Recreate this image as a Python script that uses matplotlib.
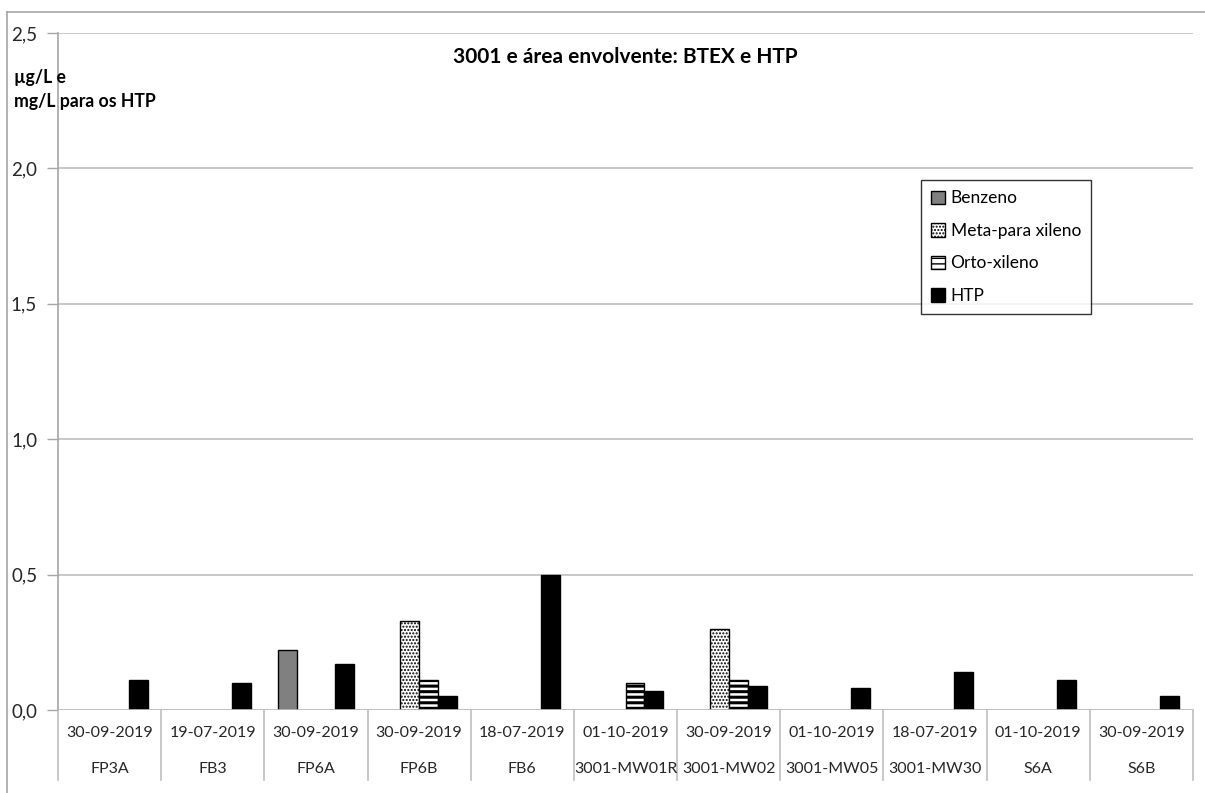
import matplotlib
matplotlib.use("Agg")
import matplotlib.pyplot as plt
import numpy as np
from matplotlib.patches import Patch
from matplotlib.lines import Line2D

plt.rcParams['font.family'] = ['Lato', 'DejaVu Sans']

dates = ["30-09-2019", "19-07-2019", "30-09-2019", "30-09-2019", "18-07-2019",
         "01-10-2019", "30-09-2019", "01-10-2019", "18-07-2019", "01-10-2019", "30-09-2019"]
sites = ["FP3A", "FB3", "FP6A", "FP6B", "FB6", "3001-MW01R", "3001-MW02",
         "3001-MW05", "3001-MW30", "S6A", "S6B"]
benzeno = [0, 0, 0.22, 0, 0, 0, 0, 0, 0, 0, 0]
meta_para = [0, 0, 0, 0.33, 0, 0, 0.30, 0, 0, 0, 0]
orto = [0, 0, 0, 0.11, 0, 0.10, 0.11, 0, 0, 0, 0]
htp = [0.11, 0.10, 0.17, 0.05, 0.50, 0.07, 0.09, 0.08, 0.14, 0.11, 0.05]

W, H = 1205, 793
fig = plt.figure(figsize=(W / 100, H / 100), dpi=100)
left, right, top, bottom = 58, 1193, 33, 710
ax = fig.add_axes([left / W, 1 - bottom / H, (right - left) / W, (bottom - top) / H])

x = np.arange(len(sites))
w = 0.184
series = [
    ("Benzeno", benzeno, dict(facecolor="#808080", edgecolor="black", hatch=None), 1.0),
    ("Meta-para xileno", meta_para, dict(facecolor="white", edgecolor="black", hatch="....."), 1.0),
    ("Orto-xileno", orto, dict(facecolor="white", edgecolor="black", hatch="---"), 2.2),
    ("HTP", htp, dict(facecolor="black", edgecolor="black", hatch=None), 1.0),
]
handles = []
for k, (name, vals, st, hlw) in enumerate(series):
    vals = np.array(vals, dtype=float)
    m = vals > 0
    with plt.rc_context({'hatch.linewidth': hlw}):
        ax.bar(x[m] + (k - 1.5) * w, vals[m], width=w, linewidth=1.0, zorder=3, **st)
        handles.append(Patch(label=name, linewidth=1.0, **st))

ax.set_xlim(-0.5, len(sites) - 0.5)
ax.set_ylim(0, 2.5)
yt = np.arange(0, 2.51, 0.5)
ax.set_yticks(yt)
ax.set_yticklabels([f"{v:.1f}".replace(".", ",") for v in yt], fontsize=13.5, color="#262626")
ax.tick_params(axis="y", direction="out", length=8, color="#A6A6A6", width=1, pad=7)
ax.set_xticks([])
ax.grid(axis="y", color="#BFBFBF", linewidth=1.2, zorder=0)
for s in ["top", "right", "bottom"]:
    ax.spines[s].set_visible(False)
ax.spines["left"].set_color("#A6A6A6")
ax.spines["left"].set_linewidth(1.2)
ax.axhline(0, color="#BFBFBF", linewidth=1.2, zorder=4)

# category separators below axis
ah = bottom - top
for b in np.arange(-0.5, len(sites), 1.0):
    ax.add_line(Line2D([b, b], [0, -70 / ah], transform=ax.get_xaxis_transform(),
                       color="#BFBFBF", linewidth=1.2, clip_on=False))
for i in range(len(sites)):
    ax.annotate(dates[i], xy=(x[i], 0), xycoords=("data", "axes fraction"),
                xytext=(0, -23), textcoords="offset pixels", ha="center", va="center",
                fontsize=11.5, color="#262626")
    ax.annotate(sites[i], xy=(x[i], 0), xycoords=("data", "axes fraction"),
                xytext=(0, -59), textcoords="offset pixels", ha="center", va="center",
                fontsize=11.5, color="#262626")

fig.text(625 / W, 1 - 57 / H, "3001 e área envolvente: BTEX e HTP", ha="center", va="center",
         fontsize=15, fontweight="bold", color="black")
fig.text(14 / W, 1 - 77 / H, "µg/L e", ha="left", va="center", fontsize=12.7,
         fontweight="bold", color="black")
fig.text(14 / W, 1 - 101 / H, "mg/L para os HTP", ha="left", va="center", fontsize=12.7,
         fontweight="bold", color="black")

leg = fig.legend(handles=handles, loc="upper left", bbox_to_anchor=(921 / W, 1 - 180 / H),
                 fontsize=12.5, frameon=True, fancybox=False, handlelength=0.8, handleheight=0.8,
                 handletextpad=0.3, labelspacing=0.95, borderpad=0.6, borderaxespad=0)
leg.get_frame().set_edgecolor("black")
leg.get_frame().set_linewidth(1.0)

# outer chart border (left and top visible)
fig.add_artist(Line2D([7 / W, 7 / W], [0, 1 - 12 / H], color="#A6A6A6", linewidth=1.2))
fig.add_artist(Line2D([7 / W, 1], [1 - 12 / H, 1 - 12 / H], color="#A6A6A6", linewidth=1.2))

fig.savefig("out.png", dpi=100)
